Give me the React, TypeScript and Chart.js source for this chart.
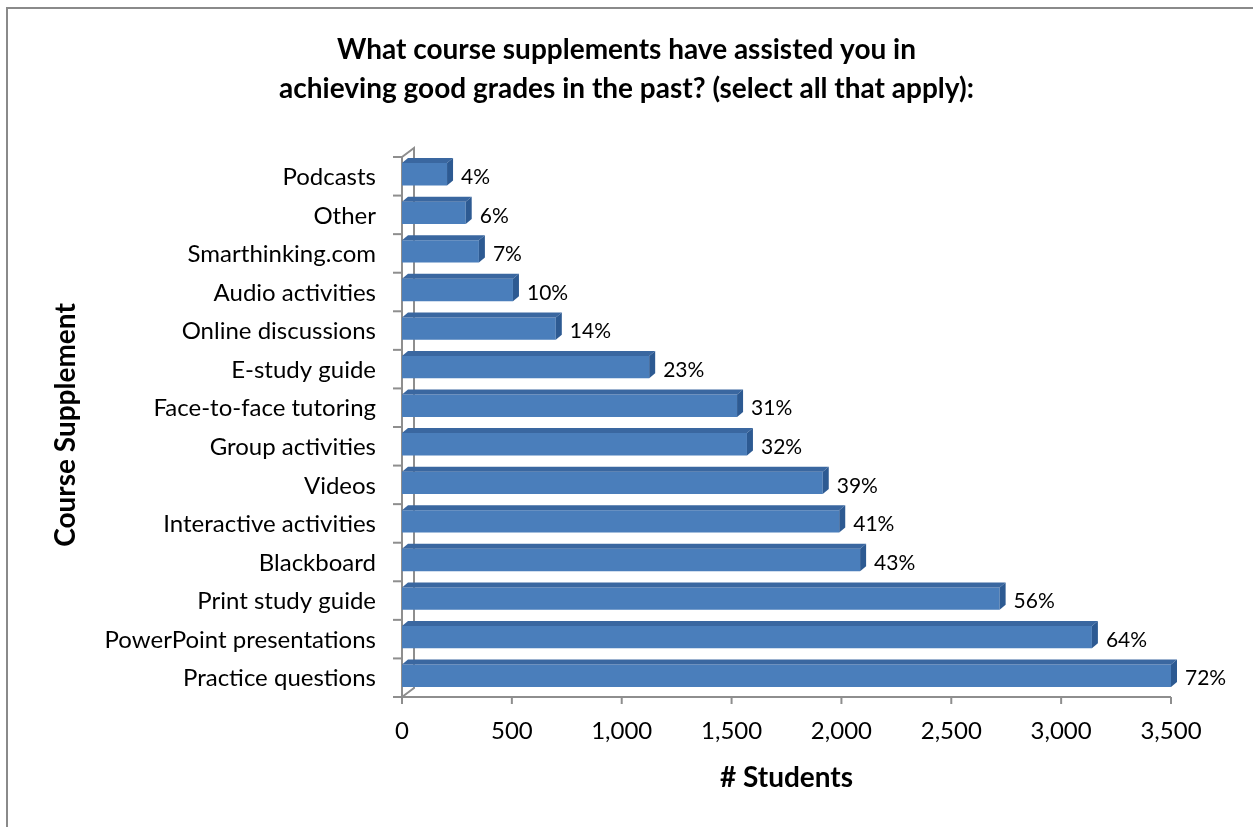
import React, { useEffect, useRef } from 'react';
import { Chart, registerables } from 'chart.js';

Chart.register(...registerables);

const titleLines = [
  'What course supplements have assisted you in',
  'achieving good grades in the past? (select all that apply):',
];
const categories = [
  'Podcasts',
  'Other',
  'Smarthinking.com',
  'Audio activities',
  'Online discussions',
  'E-study guide',
  'Face-to-face tutoring',
  'Group activities',
  'Videos',
  'Interactive activities',
  'Blackboard',
  'Print study guide',
  'PowerPoint presentations',
  'Practice questions',
];
const students = [205, 290, 350, 505, 700, 1125, 1525, 1570, 1915, 1990, 2085, 2720, 3140, 3500];
const percentLabels = ['4%', '6%', '7%', '10%', '14%', '23%', '31%', '32%', '39%', '41%', '43%', '56%', '64%', '72%'];
const xTickValues = [0, 500, 1000, 1500, 2000, 2500, 3000, 3500];
const xAxisTitle = '# Students';
const yAxisTitle = 'Course Supplement';

const FONT = 'Lato, "Open Sans", sans-serif';
const BAR_FRONT = '#4A7EBB';
const BAR_TOP = '#3A67A0';
const BAR_SIDE = '#2D5A92';
const AXIS_GRAY = '#8E8E8E';
const BAR_DX = 6;
const BAR_DY = 5;
const WALL_DX = 12;
const WALL_DY = 9;
const FLOOR_SHIFT = 2;

const excel3d = {
  id: 'excel3d',
  beforeDatasetsDraw(chart: any) {
    const { ctx, chartArea, scales } = chart;
    const xs = scales.x;
    const ys = scales.y;
    const L = chartArea.left;
    const R = chartArea.right;
    const top = chartArea.top + FLOOR_SHIFT;
    const floorY = chartArea.bottom + FLOOR_SHIFT;
    ctx.save();
    // chart title
    ctx.fillStyle = '#000';
    ctx.font = `bold 28px ${FONT}`;
    ctx.textAlign = 'center';
    ctx.textBaseline = 'middle';
    titleLines.forEach((line, i) => {
      ctx.fillText(line, chart.width / 2, 50 + i * 39);
    });

    ctx.strokeStyle = AXIS_GRAY;
    ctx.lineWidth = 2;
    // back wall edge
    ctx.beginPath();
    ctx.moveTo(L, top);
    ctx.lineTo(L + WALL_DX, top - WALL_DY);
    ctx.lineTo(L + WALL_DX, floorY - WALL_DY);
    ctx.lineTo(L, floorY);
    ctx.stroke();
    // front vertical axis
    ctx.beginPath();
    ctx.moveTo(L, top);
    ctx.lineTo(L, floorY + 7);
    ctx.stroke();
    // floor line
    ctx.beginPath();
    ctx.moveTo(L, floorY);
    ctx.lineTo(R, floorY);
    ctx.stroke();
    // category separators
    for (let i = 0; i <= categories.length; i++) {
      const y = ys.getPixelForValue(i - 0.5) + FLOOR_SHIFT;
      ctx.beginPath();
      ctx.moveTo(L - 9, y);
      ctx.lineTo(L, y);
      ctx.stroke();
    }
    // x ticks
    xTickValues.forEach((v) => {
      const x = xs.getPixelForValue(v);
      ctx.beginPath();
      ctx.moveTo(x, floorY);
      ctx.lineTo(x, floorY + 7);
      ctx.stroke();
    });
    ctx.restore();
  },
  afterDatasetsDraw(chart: any) {
    const { ctx } = chart;
    const meta = chart.getDatasetMeta(0);
    ctx.save();
    meta.data.forEach((el: any, i: number) => {
      const { x, y, base, height } = el.getProps(['x', 'y', 'base', 'height'], true);
      const t = y - height / 2;
      const b = y + height / 2;
      // top face
      ctx.fillStyle = BAR_TOP;
      ctx.beginPath();
      ctx.moveTo(base, t);
      ctx.lineTo(base + BAR_DX, t - BAR_DY);
      ctx.lineTo(x + BAR_DX, t - BAR_DY);
      ctx.lineTo(x, t);
      ctx.closePath();
      ctx.fill();
      // side face
      ctx.fillStyle = BAR_SIDE;
      ctx.beginPath();
      ctx.moveTo(x, t);
      ctx.lineTo(x + BAR_DX, t - BAR_DY);
      ctx.lineTo(x + BAR_DX, b - BAR_DY);
      ctx.lineTo(x, b);
      ctx.closePath();
      ctx.fill();
      // data label
      ctx.fillStyle = '#000';
      ctx.font = `21px ${FONT}`;
      ctx.textAlign = 'left';
      ctx.textBaseline = 'middle';
      ctx.fillText(percentLabels[i], x + BAR_DX + 8, y + 3);
    });
    ctx.restore();
  },
};

export default function App() {
  const canvasRef = useRef<HTMLCanvasElement | null>(null);

  useEffect(() => {
    if (!canvasRef.current) return;
    const chart = new Chart(canvasRef.current, {
      type: 'bar',
      data: {
        labels: categories,
        datasets: [
          {
            data: students,
            backgroundColor: BAR_FRONT,
            borderWidth: 0,
            barPercentage: 0.58,
            categoryPercentage: 1,
          },
        ],
      },
      options: {
        indexAxis: 'y',
        animation: false,
        responsive: false,
        devicePixelRatio: 1,
        layout: { padding: { left: 0, right: 82, top: 155, bottom: 0 } },
        plugins: {
          legend: { display: false },
          tooltip: { enabled: false },
          title: { display: false },
        },
        scales: {
          x: {
            type: 'linear',
            min: 0,
            max: 3500,
            afterBuildTicks: (scale: any) => {
              scale.ticks = xTickValues.map((v) => ({ value: v }));
            },
            afterFit: (scale: any) => {
              scale.height = 132;
            },
            grid: { display: false, drawTicks: false },
            border: { display: false },
            ticks: {
              color: '#000',
              font: { family: FONT, size: 24 },
              padding: 22,
              maxRotation: 0,
              callback: (v: any) => Number(v).toLocaleString('en-US'),
            },
            title: {
              display: true,
              text: xAxisTitle,
              color: '#000',
              font: { family: FONT, size: 28, weight: 'bold', lineHeight: 1.2 },
              padding: { top: 0, bottom: 32 },
            },
          },
          y: {
            type: 'category',
            afterFit: (scale: any) => {
              scale.width = 402;
            },
            grid: { display: false, drawTicks: false },
            border: { display: false },
            ticks: {
              color: '#000',
              font: { family: FONT, size: 24 },
              padding: 26,
              labelOffset: 3,
              autoSkip: false,
            },
            title: {
              display: true,
              text: yAxisTitle,
              color: '#000',
              font: { family: FONT, size: 28, weight: 'bold', lineHeight: 1.2 },
              padding: { top: 49, bottom: 0 },
            },
          },
        },
      },
      plugins: [excel3d],
    } as any);
    return () => chart.destroy();
  }, []);

  return (
    <div
      style={{
        position: 'fixed',
        left: 0,
        top: 0,
        width: 1253,
        height: 827,
        overflow: 'hidden',
        background: '#fff',
      }}
    >
      <div
        style={{
          position: 'absolute',
          left: 6,
          top: 7,
          width: 1400,
          height: 1000,
          borderTop: '2px solid #8a8a8a',
          borderLeft: '2px solid #8a8a8a',
        }}
      />
      <canvas
        ref={canvasRef}
        width={1253}
        height={827}
        style={{ position: 'absolute', left: 0, top: 0, width: 1253, height: 827 }}
      />
    </div>
  );
}
